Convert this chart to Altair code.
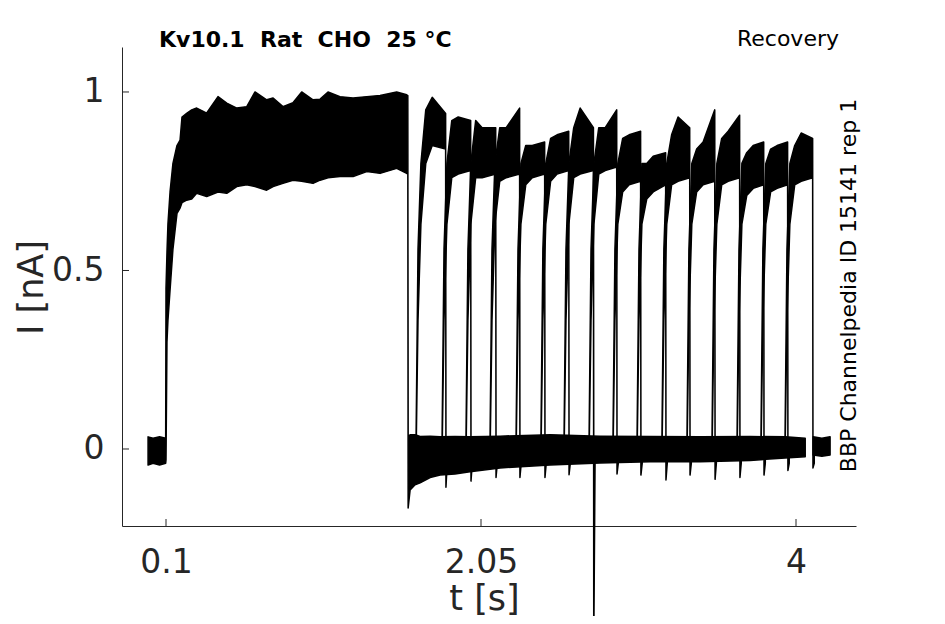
import altair as alt
import pandas as pd

# ---- axes ----
x_domain = [-0.1724, 4.3714]
y_domain = [-0.2157, 1.126]
x_ticks = [0.1, 2.05, 4]
x_tick_labels = ["0.1", "2.05", "4"]
y_ticks = [0, 0.5, 1]
y_tick_labels = ["0", "0.5", "1"]

# ---- common part of every sweep: holding, first step (noise envelope hi/lo, nA) ----
p1_t = [-0.011, 0.02, 0.06, 0.098, 0.100, 0.106, 0.112, 0.125, 0.143, 0.168, 0.187, 0.199,
        0.228, 0.259, 0.290, 0.352, 0.422, 0.476, 0.538, 0.600, 0.651, 0.723, 0.763, 0.824,
        0.886, 0.940, 1.010, 1.054, 1.103, 1.177, 1.258, 1.343, 1.425, 1.528, 1.590, 1.597]
p1_hi = [0.034, 0.03, 0.034, 0.03, 0.45, 0.55, 0.63, 0.72, 0.80, 0.85, 0.865, 0.93,
         0.94, 0.95, 0.955, 0.941, 0.987, 0.969, 0.955, 0.959, 1.0, 0.978, 0.983, 0.959,
         0.97, 1.0, 0.978, 0.98, 1.0, 0.987, 0.983, 0.987, 0.99, 1.0, 0.992, 0.99]
p1_lo = [-0.045, -0.04, -0.045, -0.04, -0.03, 0.30, 0.36, 0.445, 0.56, 0.66, 0.675, 0.69,
         0.697, 0.70, 0.716, 0.707, 0.72, 0.716, 0.735, 0.74, 0.735, 0.725, 0.735, 0.744,
         0.753, 0.75, 0.744, 0.753, 0.76, 0.763, 0.763, 0.777, 0.772, 0.786, 0.772, 0.77]

# ---- baseline between the steps (union of all sweeps) ----
base_t = [1.599, 1.611, 1.642, 1.673, 1.735, 1.797, 1.889, 1.982, 2.168, 2.478, 2.787,
          3.097, 3.407, 3.716, 3.933, 4.057]
base_hi = [0.035, 0.04, 0.04, 0.035, 0.036, 0.034, 0.035, 0.034, 0.036, 0.04, 0.036,
           0.035, 0.034, 0.035, 0.034, 0.03]
base_lo = [-0.165, -0.115, -0.10, -0.095, -0.08, -0.073, -0.07, -0.064, -0.053, -0.045,
           -0.039, -0.036, -0.036, -0.032, -0.025, -0.022]

# ---- tail of the last sweep ----
last_t = [4.106, 4.16, 4.211]
last_hi = [0.034, 0.03, 0.034]
last_lo = [-0.017, -0.02, -0.017]

# ---- second step of each sweep ----
p2_on = [1.648, 1.809, 1.957, 2.106, 2.267, 2.421, 2.564, 2.719, 2.867, 3.016, 3.170,
         3.325, 3.480, 3.635, 3.783, 3.932]
p2_off = [1.833, 1.988, 2.143, 2.291, 2.446, 2.595, 2.748, 2.892, 3.040, 3.195, 3.344,
          3.499, 3.653, 3.802, 3.950, 4.105]
p2_lo_early = [0.80, 0.76, 0.76, 0.75, 0.74, 0.75, 0.76, 0.77, 0.72, 0.70, 0.74, 0.72,
               0.74, 0.71, 0.72, 0.74]
p2_hi_early = [0.95, 0.92, 0.92, 0.90, 0.85, 0.87, 0.90, 0.90, 0.87, 0.80, 0.88, 0.84,
               0.87, 0.83, 0.84, 0.85]
p2_lo_mid = [0.85, 0.77, 0.76, 0.76, 0.76, 0.77, 0.77, 0.78, 0.74, 0.72, 0.75, 0.74,
             0.75, 0.73, 0.73, 0.75]
p2_hi_mid = [0.985, 0.93, 0.90, 0.90, 0.85, 0.88, 0.955, 0.90, 0.88, 0.82, 0.93, 0.86,
             0.89, 0.85, 0.85, 0.885]
p2_lo_late = [0.84, 0.78, 0.77, 0.77, 0.77, 0.78, 0.78, 0.79, 0.75, 0.74, 0.76, 0.75,
              0.76, 0.74, 0.74, 0.76]
p2_hi_late = [0.94, 0.92, 0.90, 0.955, 0.86, 0.89, 0.90, 0.95, 0.89, 0.83, 0.90, 0.95,
              0.935, 0.86, 0.86, 0.87]
p2_undershoot = [-0.107, -0.09, -0.08, -0.08, -0.08, -0.072, -0.55, -0.07, -0.073, -0.087,
                 -0.073, -0.085, -0.08, -0.073, -0.06, -0.053]
# activation onset after each second step (s after step, nA)
onset_dt = [0.0, 0.012, 0.03]
onset_lo = [-0.02, 0.36, 0.63]
onset_hi = [0.03, 0.56, 0.80]
plateau_dt = 0.06
mid_dt = 0.10
tail_dt = 0.008

# ---- build table ----
rows = []
for t, h, l in zip(p1_t + base_t, p1_hi + base_hi, p1_lo + base_lo):
    rows.append({"trace": "main", "t": t, "hi": h, "lo": l})
for t, h, l in zip(last_t, last_hi, last_lo):
    rows.append({"trace": "last", "t": t, "hi": h, "lo": l})
for i in range(len(p2_on)):
    name = f"s{i + 1}"
    for dt, l, h in zip(onset_dt, onset_lo, onset_hi):
        rows.append({"trace": name, "t": p2_on[i] + dt, "hi": h, "lo": l})
    rows.append({"trace": name, "t": p2_on[i] + plateau_dt, "hi": p2_hi_early[i], "lo": p2_lo_early[i]})
    rows.append({"trace": name, "t": p2_on[i] + mid_dt, "hi": p2_hi_mid[i], "lo": p2_lo_mid[i]})
    rows.append({"trace": name, "t": p2_off[i] - 0.002, "hi": p2_hi_late[i], "lo": p2_lo_late[i]})
    rows.append({"trace": name, "t": p2_off[i], "hi": 0.02, "lo": p2_undershoot[i]})
    rows.append({"trace": name, "t": p2_off[i] + tail_dt, "hi": 0.03, "lo": -0.04})
df = pd.DataFrame(rows)


def label_expr(values, labels):
    expr = f"'{labels[-1]}'"
    for v, lab in zip(values[:-1][::-1], labels[:-1][::-1]):
        expr = f"datum.value == {v} ? '{lab}' : " + expr
    return expr


AX = "#262626"
FONT = "DejaVu Sans"
W, H = 734, 479

x_axis = alt.Axis(values=x_ticks, labelExpr=label_expr(x_ticks, x_tick_labels), title="t [s]",
                  ticks=False, tickSize=0, grid=False, domainColor=AX, domainWidth=1,
                  labelColor=AX, labelFont=FONT, labelFontSize=33, labelPadding=20,
                  labelFlush=False, labelOverlap=False,
                  titleFont=FONT, titleFontSize=35, titleFontWeight="normal", titleColor=AX,
                  titleX=362, titleY=83, titleBaseline="alphabetic", titleAlign="center")
y_axis = alt.Axis(values=y_ticks, labelExpr=label_expr(y_ticks, y_tick_labels), title="I [nA]",
                  ticks=False, tickSize=0, grid=False, domainColor=AX, domainWidth=1,
                  labelColor=AX, labelFont=FONT, labelFontSize=33, labelPadding=18,
                  labelOverlap=False,
                  titleFont=FONT, titleFontSize=35, titleFontWeight="normal", titleColor=AX,
                  titleAngle=270, titleX=-80, titleY=240, titleBaseline="alphabetic",
                  titleAlign="center")

x_enc = alt.X("t:Q", scale=alt.Scale(domain=x_domain, nice=False, zero=False), axis=x_axis)
y_enc = alt.Y("hi:Q", scale=alt.Scale(domain=y_domain, nice=False, zero=False), axis=y_axis)

traces = alt.Chart(df).mark_area(fill="black", stroke="black", strokeWidth=1.5,
                                 strokeJoin="round", opacity=1).encode(
    x=x_enc, y=y_enc, y2="lo:Q", detail="trace:N"
)

xt = alt.Chart(pd.DataFrame({"t": x_ticks})).mark_rule(color=AX, strokeWidth=1).encode(
    x=x_enc, y=alt.value(H - 7), y2=alt.value(H)
)
yt = alt.Chart(pd.DataFrame({"hi": y_ticks})).mark_rule(color=AX, strokeWidth=1).encode(
    y=y_enc, x=alt.value(0), x2=alt.value(7)
)

title_txt = alt.Chart(pd.DataFrame({"label": ["Kv10.1\u00a0 Rat\u00a0 CHO\u00a0 25 °C"]})).mark_text(
    align="left", baseline="alphabetic", font=FONT, fontSize=22, fontWeight="bold", color="black"
).encode(x=alt.value(37), y=alt.value(0), text="label:N")
rec_txt = alt.Chart(pd.DataFrame({"label": ["Recovery"]})).mark_text(
    align="right", baseline="alphabetic", font=FONT, fontSize=22, color="black"
).encode(x=alt.value(717), y=alt.value(-1), text="label:N")
side_txt = alt.Chart(pd.DataFrame({"label": ["BBP Channelpedia ID 15141 rep 1"]})).mark_text(
    align="center", baseline="middle", angle=270, font=FONT, fontSize=22, color="black"
).encode(x=alt.value(727), y=alt.value(238.5), text="label:N")

chart = alt.layer(traces, xt, yt, title_txt, rec_txt, side_txt).properties(
    width=W, height=H,
    autosize=alt.AutoSizeParams(type="none"),
    padding={"left": 114, "top": 39, "right": 81, "bottom": 90},
    background="white",
).configure_view(stroke=None)

chart.save("out.html", embed_options={"renderer": "svg", "actions": False})
